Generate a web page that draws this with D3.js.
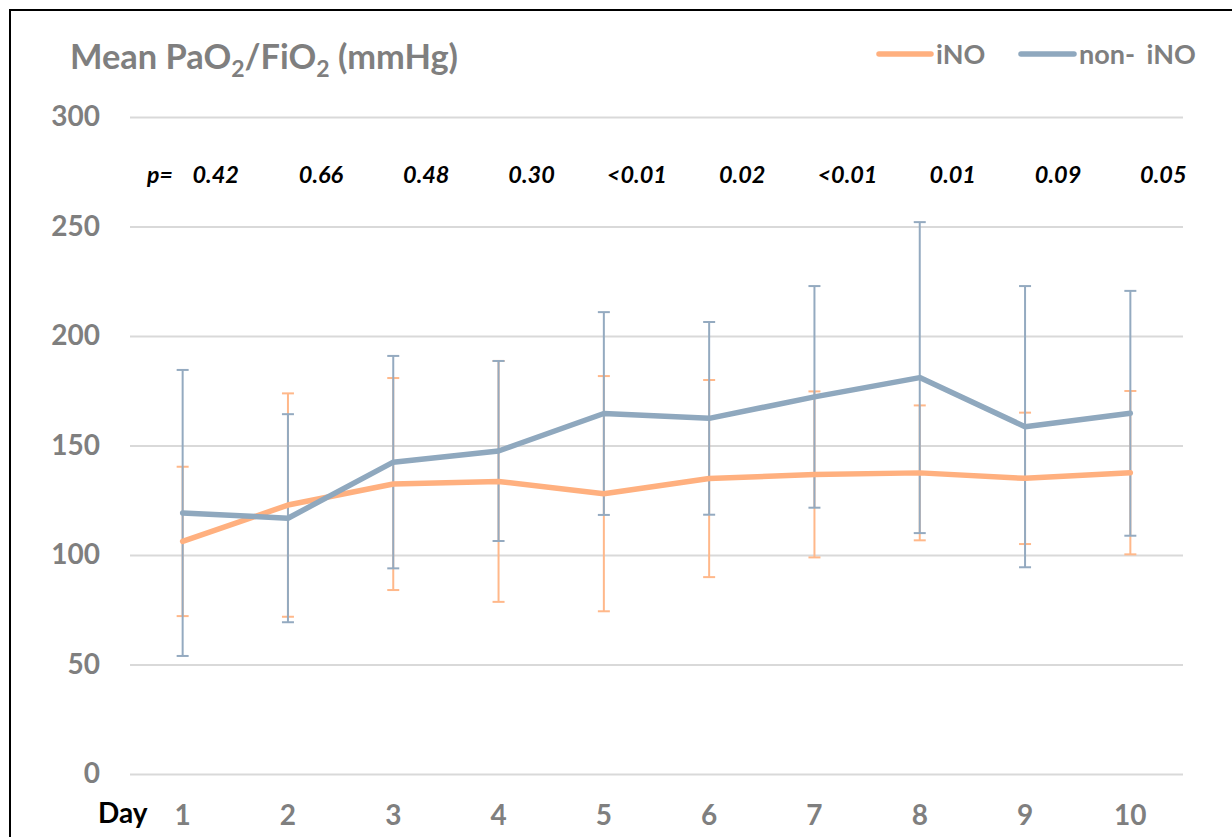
<!DOCTYPE html>
<html><head><meta charset="utf-8">
<script src="https://cdn.jsdelivr.net/npm/d3@7"></script>
<style>
html,body{margin:0;padding:0;background:#fff;}
svg{display:block;font-family:Lato,"Open Sans",sans-serif;}
</style></head>
<body>
<svg id="chart" width="1232" height="837"></svg>
<script>
const days = ["1","2","3","4","5","6","7","8","9","10"];
const yTicks = [0,50,100,150,200,250,300];
const pValues = ["0.42","0.66","0.48","0.30","<0.01","0.02","<0.01","0.01","0.09","0.05"];
const inoMean = [106.2,122.8,132.4,133.6,128.0,134.9,136.8,137.5,135.0,137.6];
const inoSD   = [34.1,51.0,48.4,55.0,53.7,45.0,37.9,30.8,30.0,37.3];
const nonMean = [119.2,116.8,142.4,147.5,164.6,162.4,172.2,181.0,158.6,164.7];
const nonSD   = [65.3,47.5,48.5,41.1,46.3,44.0,50.6,71.0,64.2,55.9];
const seriesNames = ["iNO","non- iNO"];

const colINO = "#FFB07F", colNon = "#8FA8BE";
const colINOerr = "#FFB88A", colNonErr = "#94AAC0";
const textGray = "#7F7F7F";

const svg = d3.select("#chart");
// frame
svg.append("rect").attr("x",10).attr("y",10).attr("width",1240).attr("height",850)
  .attr("fill","none").attr("stroke","#000").attr("stroke-width",2);

const x = d3.scaleBand().domain(days).range([130,1183]).padding(0);
const y = d3.scaleLinear().domain([0,300]).range([774,117]);
const cx = d => x(d) + x.bandwidth()/2;

// gridlines
const grid = svg.append("g").attr("transform","translate(130,0)")
  .call(d3.axisRight(y).tickValues(yTicks).tickSize(1053).tickFormat(""));
grid.select(".domain").remove();
grid.selectAll("line").attr("stroke","#D9D9D9").attr("stroke-width",2);

// y axis labels
const ya = svg.append("g").attr("transform","translate(100,0)")
  .call(d3.axisLeft(y).tickValues(yTicks).tickSize(0).tickPadding(0));
ya.select(".domain").remove();
ya.selectAll("text").attr("fill",textGray).attr("font-size",28).attr("font-weight","bold")
  .attr("font-family","Lato");

// x axis labels
const xa = svg.append("g").attr("transform","translate(0,774)")
  .call(d3.axisBottom(x).tickSize(0).tickPadding(31));
xa.select(".domain").remove();
xa.selectAll("text").attr("fill",textGray).attr("font-size",28).attr("font-weight","bold")
  .attr("font-family","Lato");

svg.append("text").attr("x",98).attr("y",823).text("Day")
  .attr("font-size",28).attr("font-weight","bold").attr("fill","#000");

// title
const title = svg.append("text").attr("x",70).attr("y",69).attr("fill",textGray)
  .attr("font-size",34.4).attr("font-weight","bold");
title.append("tspan").text("Mean PaO");
title.append("tspan").text("2").attr("font-size",23).attr("dy",8);
title.append("tspan").text("/FiO").attr("dy",-8);
title.append("tspan").text("2").attr("font-size",23).attr("dy",8);
title.append("tspan").text(" (mmHg)").attr("dy",-8);

// p values
svg.append("text").attr("x",147).attr("y",183).text("p=")
  .attr("font-size",23).attr("font-weight","bold").attr("font-style","italic").attr("fill","#000");
svg.append("g").selectAll("text").data(days).join("text")
  .attr("x",d=>cx(d)+33).attr("y",183).attr("text-anchor","middle")
  .text((d,i)=>pValues[i])
  .attr("font-size",23.5).attr("font-weight","bold").attr("font-style","italic").attr("fill","#000");

// error bars
function errorBars(mean, sd, color){
  const g = svg.append("g").attr("stroke",color).attr("stroke-width",2);
  g.selectAll("line.v").data(days).join("line").attr("class","v")
    .attr("x1",cx).attr("x2",cx)
    .attr("y1",(d,i)=>y(mean[i]+sd[i])).attr("y2",(d,i)=>y(mean[i]-sd[i]));
  g.selectAll("line.t").data(days).join("line").attr("class","t")
    .attr("x1",d=>cx(d)-6).attr("x2",d=>cx(d)+6)
    .attr("y1",(d,i)=>y(mean[i]+sd[i])).attr("y2",(d,i)=>y(mean[i]+sd[i]));
  g.selectAll("line.b").data(days).join("line").attr("class","b")
    .attr("x1",d=>cx(d)-6).attr("x2",d=>cx(d)+6)
    .attr("y1",(d,i)=>y(mean[i]-sd[i])).attr("y2",(d,i)=>y(mean[i]-sd[i]));
}
errorBars(inoMean, inoSD, colINOerr);
errorBars(nonMean, nonSD, colNonErr);

const line = d3.line().x((d,i)=>cx(days[i])).y(d=>y(d));
svg.append("path").datum(inoMean).attr("d",line).attr("fill","none")
  .attr("stroke",colINO).attr("stroke-width",5.5).attr("stroke-linejoin","round").attr("stroke-linecap","round");
svg.append("path").datum(nonMean).attr("d",line).attr("fill","none")
  .attr("stroke",colNon).attr("stroke-width",5.5).attr("stroke-linejoin","round").attr("stroke-linecap","round");

// legend
const legend = [{name:seriesNames[0],c:colINO,x1:879,x2:931,tx:936},
                {name:seriesNames[1],c:colNon,x1:1021,x2:1074,tx:1079}];
const lg = svg.append("g");
lg.selectAll("line").data(legend).join("line")
  .attr("x1",d=>d.x1).attr("x2",d=>d.x2).attr("y1",54).attr("y2",54)
  .attr("stroke",d=>d.c).attr("stroke-width",5.5).attr("stroke-linecap","round");
lg.selectAll("text").data(legend).join("text")
  .attr("x",d=>d.tx).attr("y",64).text(d=>d.name)
  .attr("font-size",27).attr("font-weight","bold").attr("fill",textGray)
  .attr("word-spacing",5);
</script>
</body></html>
